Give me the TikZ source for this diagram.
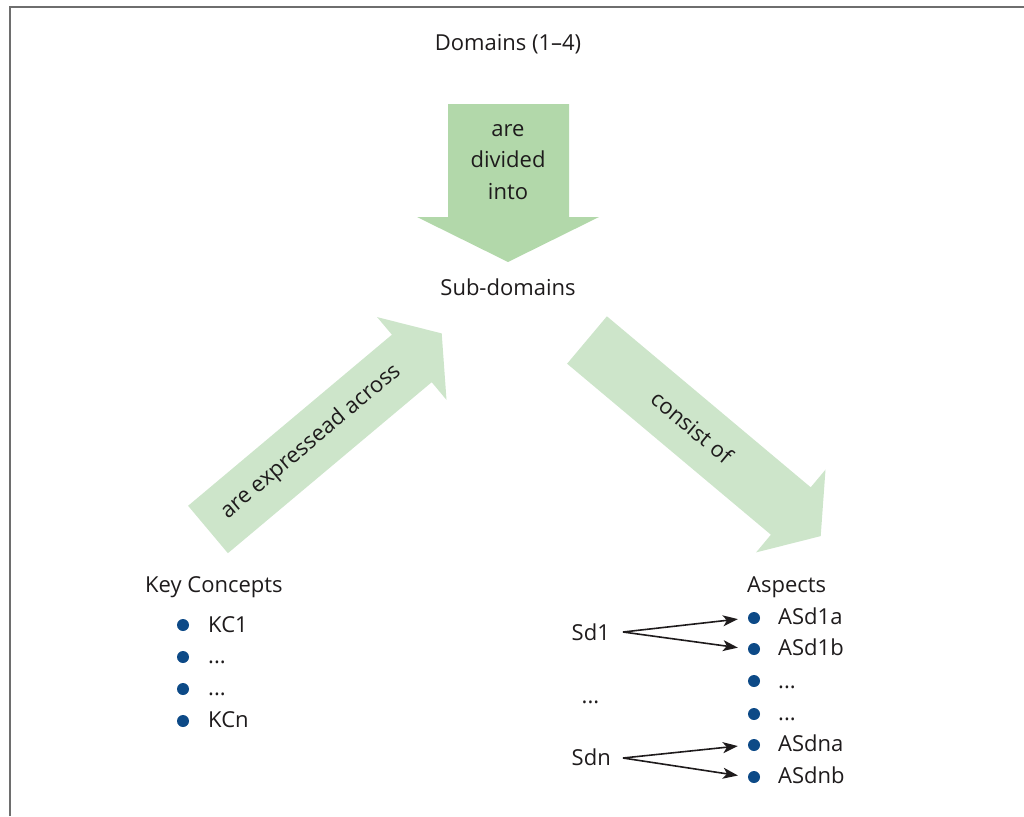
\documentclass[tikz,border=0pt]{standalone}
\usepackage{fontspec}
\setmainfont{Open Sans}
\usetikzlibrary{arrows.meta}
\definecolor{txt}{HTML}{1E1B1C}
\definecolor{dotblue}{HTML}{0D4A87}
\definecolor{greenA}{HTML}{B2D8AA}
\definecolor{greenB}{HTML}{CDE5CA}
\definecolor{framegray}{HTML}{6E6E6E}
\tikzset{
  lbl/.style={inner sep=0pt, text=txt, font=\fontsize{22}{26}\selectfont},
  item/.style={lbl, anchor=base west},
  bdot/.style={circle, fill=dotblue, draw=none, minimum size=12pt, inner sep=0pt},
  conn/.style={draw=txt, line width=1.6pt, -{Stealth[length=15pt,width=11pt,inset=4pt]}, shorten >=10pt},
}
\begin{document}
\begin{tikzpicture}[x=1pt,y=-1pt]
\useasboundingbox (0,0) rectangle (1024,816);
% frame
\draw[framegray, line width=2pt] (9.5,816) -- (9.5,7.5) -- (1024,7.5);
% big arrows
\fill[greenA] (448,104) -- (569,104) -- (569,217) -- (599,217) -- (508,262) -- (417,217) -- (448,217) -- cycle;
\fill[greenB] (188.1,505.8) -- (391.9,334.7) -- (377.1,317.1) -- (441.7,333.4) -- (446.5,399.9) -- (431.7,382.2) -- (227.9,553.2) -- cycle;
\fill[greenB] (606.9,316.3) -- (810.7,487.3) -- (825.5,469.6) -- (820.7,536.1) -- (756.1,552.4) -- (770.9,534.7) -- (567.1,363.7) -- cycle;
% texts
\node[lbl, anchor=base] (dom) at (508,51) {Domains (1–4)};
\node[lbl, anchor=base] (l1) at (508,136) {are};
\node[lbl, anchor=base] (l2) at (508,167) {divided};
\node[lbl, anchor=base] (l3) at (508,199) {into};
\node[lbl, anchor=base] (sub) at (508,295) {Sub-domains};
\node[lbl, rotate=40] (expr) at (311,442) {are expressead across};
\node[lbl, rotate=-40] (cons) at (692,427) {consist of};
% key concepts
\node[item] (kc) at (145,592) {Key Concepts};
\node[bdot] (kd1) at (183,625) {};
\node[bdot] (kd2) at (183,657) {};
\node[bdot] (kd3) at (183,689) {};
\node[bdot] (kd4) at (183,721) {};
\node[item] (kc1) at (208,632) {KC1};
\node[item] (kc2) at (208,663) {...};
\node[item] (kc3) at (208,695) {...};
\node[item] (kcn) at (208,727) {KCn};
% aspects
\node[item] (asp) at (747,592) {Aspects};
\node[bdot] (ad1) at (754,618) {};
\node[bdot] (ad2) at (754,649) {};
\node[bdot] (ad3) at (754,681) {};
\node[bdot] (ad4) at (754,714) {};
\node[bdot] (ad5) at (754,745) {};
\node[bdot] (ad6) at (754,777) {};
\node[item] (a1) at (778,624.5) {ASd1a};
\node[item] (a2) at (778,655.5) {ASd1b};
\node[item] (a3) at (778,688) {...};
\node[item] (a4) at (778,720) {...};
\node[item] (a5) at (778,751.5) {ASdna};
\node[item] (a6) at (778,783) {ASdnb};
% sub-domains list
\node[item] (sd1) at (571.5,640) {Sd1};
\node[item] (sdd) at (581.5,703) {...};
\node[item] (sdn) at (571.5,765) {Sdn};
\coordinate (s1) at (623,632);
\coordinate (sn) at (623,758);
\draw[conn] (s1) -- (ad1.west);
\draw[conn] (s1) -- (ad2.west);
\draw[conn] (sn) -- (ad5.west);
\draw[conn] (sn) -- (ad6.west);
\end{tikzpicture}
\end{document}
